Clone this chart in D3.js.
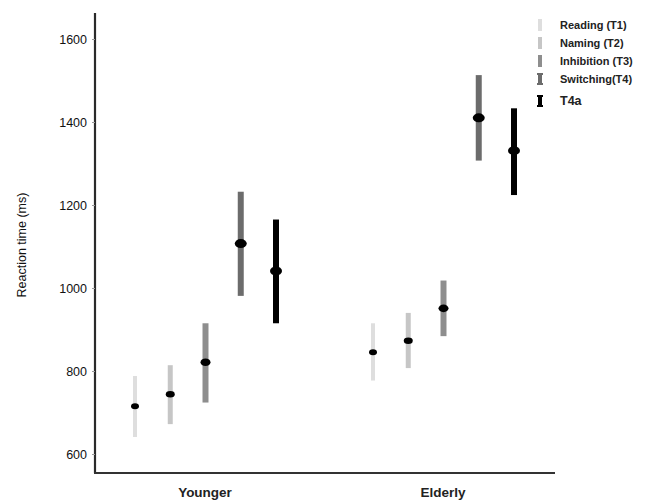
<!DOCTYPE html>
<html><head><meta charset="utf-8">
<script src="https://cdn.jsdelivr.net/npm/d3@7"></script>
<style>body{margin:0;background:#fff}</style>
</head><body>
<svg id="c" width="657" height="502"></svg>
<script>
const groups = ["Younger", "Elderly"];
const tasks = ["Reading (T1)", "Naming (T2)", "Inhibition (T3)", "Switching(T4)", "T4a"];
const means = [[715, 744, 821, 1107, 1041], [845, 873, 951, 1410, 1331]];
const lows  = [[641, 672, 724, 981, 915], [777, 807, 884, 1307, 1224]];
const highs = [[788, 814, 915, 1232, 1165], [915, 940, 1018, 1513, 1433]];
const yTicks = [600, 800, 1000, 1200, 1400, 1600];
const colors = ["#dedede", "#c6c6c6", "#8e8e8e", "#6c6c6c", "#000000"];
const widths = [4, 5, 6, 6, 6];
const dotR = [[4, 3], [4.5, 3.2], [5, 3.8], [6, 4.5], [6, 4.5]];

const svg = d3.select("#c");
const y = d3.scaleLinear().domain([600, 1600]).range([454, 39]);
const x = d3.scalePoint().domain(groups).range([205, 443]);
const xo = d3.scalePoint().domain(tasks).range([-70, 71]);

// axes
svg.append("line").attr("x1", 95).attr("x2", 95).attr("y1", 13).attr("y2", 473)
  .attr("stroke", "#2a2a2a").attr("stroke-width", 2.2);
svg.append("line").attr("x1", 94).attr("x2", 555).attr("y1", 473).attr("y2", 473)
  .attr("stroke", "#333").attr("stroke-width", 2.2);
const yAxis = d3.axisLeft(y).tickValues(yTicks).tickFormat(d3.format("d")).tickSize(3).tickPadding(5);
const ga = svg.append("g").attr("transform", "translate(95,0)").call(yAxis);
ga.select(".domain").remove();
ga.selectAll("line").attr("stroke", "#999");
ga.selectAll("text").attr("font-family", "Liberation Sans, Arial, sans-serif")
  .attr("font-size", 12.5).attr("fill", "#111");

svg.append("text").attr("transform", "translate(26,245) rotate(-90)")
  .attr("text-anchor", "middle").attr("font-family", "Liberation Sans, Arial, sans-serif")
  .attr("font-size", 12.5).attr("fill", "#111").text("Reaction time (ms)");

groups.forEach((g, gi) => {
  svg.append("text").attr("x", x(g)).attr("y", 497).attr("text-anchor", "middle")
    .attr("font-family", "Liberation Sans, Arial, sans-serif").attr("font-weight", "bold")
    .attr("font-size", 13.5).attr("fill", "#222").text(g);
  tasks.forEach((t, ti) => {
    const cx = x(g) + xo(t);
    svg.append("line").attr("x1", cx).attr("x2", cx)
      .attr("y1", y(lows[gi][ti])).attr("y2", y(highs[gi][ti]))
      .attr("stroke", colors[ti]).attr("stroke-width", widths[ti]);
    svg.append("ellipse").attr("cx", cx).attr("cy", y(means[gi][ti]))
      .attr("rx", dotR[ti][0]).attr("ry", dotR[ti][1]).attr("fill", "#000");
  });
});

// legend
const ly = [25, 43, 61, 79, 101];
tasks.forEach((t, ti) => {
  const lx = 540, cy = ly[ti];
  svg.append("rect").attr("x", lx - 2).attr("y", cy - 6).attr("width", 4).attr("height", 12)
    .attr("fill", colors[ti]);
  if (ti >= 3) {
    svg.append("rect").attr("x", lx - 3).attr("y", cy - 6).attr("width", 6).attr("height", 2).attr("fill", colors[ti]);
    svg.append("rect").attr("x", lx - 3).attr("y", cy + 4).attr("width", 6).attr("height", 2).attr("fill", colors[ti]);
  }
  svg.append("text").attr("x", 560).attr("y", cy + 4)
    .attr("font-family", "Liberation Sans, Arial, sans-serif").attr("font-weight", "bold")
    .attr("font-size", ti === 4 ? 12.5 : 11).attr("fill", "#222").text(t);
});
</script>
</body></html>
